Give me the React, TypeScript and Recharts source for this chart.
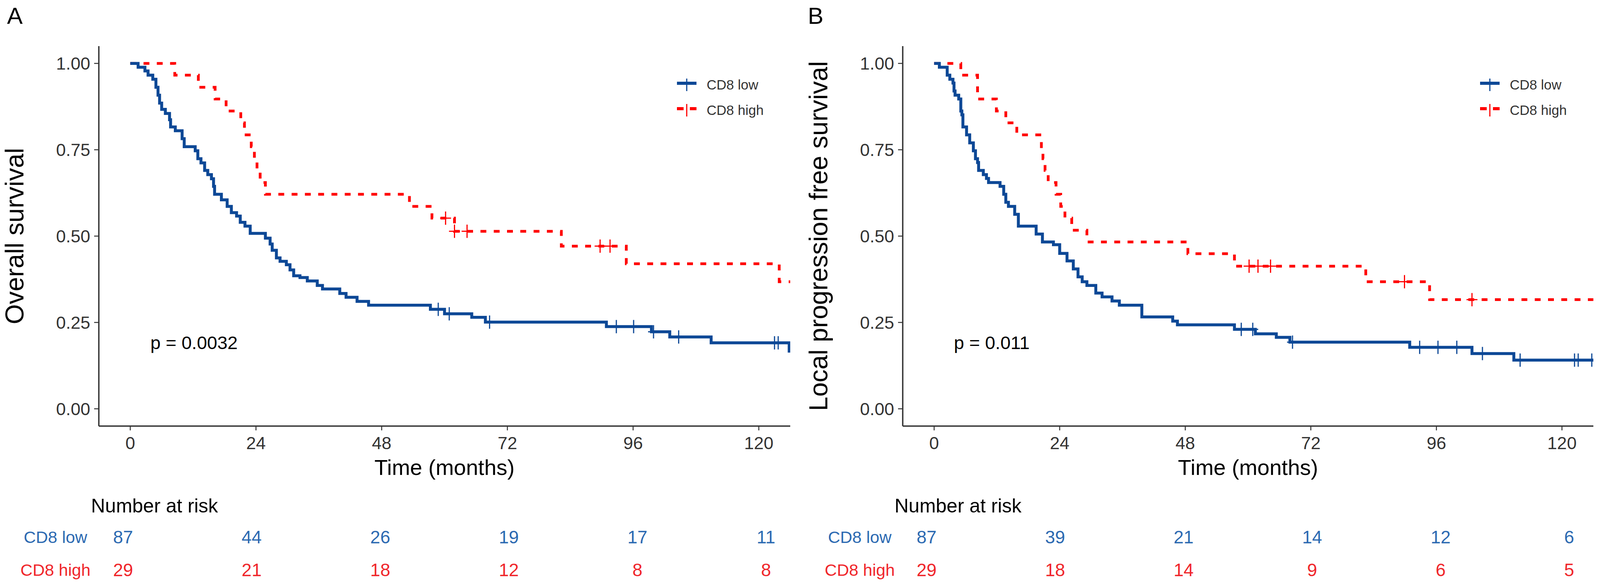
import React from 'react';
import { ComposedChart, Line, Scatter, XAxis, YAxis, Legend } from 'recharts';

const FONT = '"Liberation Sans", Arial, Helvetica, sans-serif';
const BLUE = '#0D4896';
const RED = '#FF0000';
const BLUE_TXT = '#2C6AB2';
const RED_TXT = '#F0262B';
const AXIS = '#333333';

const groups = ['CD8 low', 'CD8 high'];
const timeTicks = [0, 24, 48, 72, 96, 120];
const survTicks = [0, 0.25, 0.5, 0.75, 1];

// Panel A - overall survival, [time, survival]
const osLow = [
  [0, 1], [1.5, 0.989], [2.8, 0.978], [3.4, 0.966], [4.3, 0.954], [4.9, 0.931], [5.3, 0.908],
  [5.6, 0.885], [6.0, 0.867], [6.7, 0.855], [7.5, 0.837], [7.7, 0.816], [8.6, 0.805],
  [9.9, 0.782], [10.3, 0.759], [12.4, 0.747], [12.9, 0.724], [13.5, 0.712], [14.2, 0.69],
  [14.8, 0.678], [15.5, 0.666], [15.9, 0.644], [16.1, 0.621], [17.4, 0.605], [18.5, 0.586],
  [19.3, 0.568], [20.3, 0.558], [21.0, 0.54], [21.9, 0.529], [22.9, 0.508], [25.8, 0.494],
  [26.7, 0.477], [27.1, 0.459], [27.9, 0.437], [28.6, 0.427], [29.8, 0.417], [30.5, 0.402],
  [31.2, 0.385], [32.4, 0.38], [33.8, 0.37], [35.7, 0.357], [36.7, 0.347], [40.0, 0.334],
  [41.2, 0.323], [43.3, 0.311], [45.5, 0.3], [57.3, 0.288], [60.0, 0.275], [65.2, 0.265],
  [67.8, 0.251], [90.9, 0.238], [99.5, 0.223], [103.0, 0.208], [110.9, 0.191],
  [125.8, 0.167], [126, 0.167],
];
const osHigh = [
  [0, 1], [8.5, 0.966], [13.0, 0.931], [16.2, 0.897], [18.3, 0.862], [21.1, 0.828],
  [21.8, 0.793], [23.1, 0.759], [23.7, 0.724], [24.2, 0.69], [24.8, 0.655], [25.8, 0.621],
  [53.3, 0.586], [57.6, 0.552], [61.9, 0.514], [82.3, 0.471], [94.7, 0.42], [123.9, 0.368],
  [126, 0.368],
];
const osLowCensor = [
  [58.8, 0.288], [60.9, 0.275], [68.6, 0.251], [92.8, 0.238], [96.1, 0.238], [99.9, 0.223],
  [104.7, 0.208], [123.0, 0.191], [123.7, 0.191],
];
const osHighCensor = [[60.2, 0.552], [61.9, 0.514], [64.3, 0.514], [89.7, 0.471], [91.6, 0.471]];

// Panel B - local progression free survival
const lpfsLow = [
  [0, 1], [1.0, 0.989], [2.5, 0.966], [3.0, 0.954], [3.6, 0.943], [3.8, 0.92], [4.0, 0.908],
  [4.7, 0.897], [5.1, 0.862], [5.3, 0.851], [5.5, 0.816], [6.2, 0.793], [6.8, 0.77],
  [7.5, 0.747], [7.9, 0.724], [8.3, 0.713], [8.5, 0.69], [9.4, 0.678], [10.0, 0.667],
  [10.4, 0.655], [12.6, 0.644], [13.3, 0.621], [13.7, 0.598], [14.2, 0.586], [15.4, 0.563],
  [16.1, 0.529], [19.5, 0.506], [20.7, 0.483], [22.8, 0.475], [24.0, 0.45], [25.4, 0.428],
  [26.6, 0.405], [27.5, 0.382], [28.3, 0.368], [29.2, 0.357], [30.9, 0.335], [32.1, 0.324],
  [34.0, 0.312], [35.4, 0.3], [39.7, 0.266], [45.6, 0.254], [46.5, 0.243], [57.4, 0.23],
  [61.4, 0.217], [65.4, 0.207], [68.0, 0.193], [90.9, 0.178], [102.8, 0.16], [110.8, 0.141],
  [126, 0.141],
];
const lpfsHigh = [
  [0, 1], [5.1, 0.966], [8.3, 0.897], [11.9, 0.862], [13.7, 0.828], [15.8, 0.793],
  [20.5, 0.759], [20.8, 0.724], [21.2, 0.69], [21.8, 0.655], [23.3, 0.621], [24.2, 0.586],
  [25.0, 0.552], [26.3, 0.517], [29.2, 0.483], [48.5, 0.449], [57.4, 0.413], [82.5, 0.368],
  [94.7, 0.316], [126, 0.316],
];
const lpfsLowCensor = [
  [58.7, 0.23], [60.9, 0.23], [68.5, 0.193], [92.8, 0.178], [96.3, 0.178], [99.9, 0.178],
  [104.8, 0.16], [112.0, 0.141], [122.4, 0.141], [123.1, 0.141], [125.7, 0.141],
];
const lpfsHighCensor = [[60.2, 0.413], [61.9, 0.413], [64.3, 0.413], [89.9, 0.368], [102.8, 0.316]];

// Number at risk at the time ticks
const riskA_low = [87, 44, 26, 19, 17, 11];
const riskA_high = [29, 21, 18, 12, 8, 8];
const riskB_low = [87, 39, 21, 14, 12, 6];
const riskB_high = [29, 18, 14, 9, 6, 5];

const pts = (arr: number[][]) => arr.map(([t, s]) => ({ t, s }));
const riskRows = (low: number[], high: number[]) => [
  ...low.map((n, i) => ({ t: timeTicks[i], row: 1, n })),
  ...high.map((n, i) => ({ t: timeTicks[i], row: 2, n })),
];

const plusShape = (color: string) => (props: any) => {
  const { cx, cy } = props;
  if (cx == null || cy == null) return null;
  return (
    <g stroke={color} strokeWidth={3}>
      <line x1={cx - 14} x2={cx + 14} y1={cy} y2={cy} />
      <line x1={cx} x2={cx} y1={cy - 17} y2={cy + 17} />
    </g>
  );
};

const legendContent = () => (
  <div style={{ fontFamily: FONT }}>
    {groups.map((g, i) => (
      <div key={g} style={{ display: 'flex', alignItems: 'center', height: 65 }}>
        <svg width={50} height={40}>
          {i === 0 ? (
            <line x1={0} x2={50} y1={16} y2={16} stroke={BLUE} strokeWidth={8} />
          ) : (
            <g stroke={RED} strokeWidth={8}>
              <line x1={0} x2={17} y1={16} y2={16} />
              <line x1={33} x2={50} y1={16} y2={16} />
            </g>
          )}
          <line x1={25} x2={25} y1={4} y2={36} stroke={i === 0 ? BLUE : RED} strokeWidth={3} />
        </svg>
        <span style={{ marginLeft: 26, fontSize: 35, color: '#333' }}>{g}</span>
      </div>
    ))}
  </div>
);

const RiskTick = (props: any) => {
  const { x, y, payload } = props;
  const row = payload.value as number;
  return (
    <text x={x} y={y} dy="0.36em" textAnchor="middle" fontSize={43} fontFamily={FONT} fill={row === 1 ? BLUE_TXT : RED_TXT}>
      {groups[row - 1]}
    </text>
  );
};

const riskShape = (props: any) => {
  const { cx, cy, payload } = props;
  return (
    <text x={cx} y={cy} dy="0.36em" textAnchor="middle" fontSize={46} fontFamily={FONT} fill={payload.row === 1 ? BLUE_TXT : RED_TXT}>
      {payload.n}
    </text>
  );
};

type PanelProps = {
  left: number;
  width: number;
  axisWidth: number;
  right: number;
  titleOffset: number;
  legendLeft: number;
  pvalLeft: number;
  riskLeft: number;
  riskAxisWidth: number;
  riskRight: number;
  riskLabelMargin: number;
  tag: string;
  yLabel: string;
  pval: string;
  low: number[][];
  high: number[][];
  lowCens: number[][];
  highCens: number[][];
  riskLow: number[];
  riskHigh: number[];
};

const Panel = (p: PanelProps) => {
  const tickStyle = { fontSize: 45, fill: '#333', fontFamily: FONT };
  return (
    <>
      <div style={{ position: 'absolute', left: p.left + 18, top: 11, fontSize: 60, lineHeight: 1, fontFamily: FONT }}>{p.tag}</div>
      <div style={{ position: 'absolute', left: p.left }}>
        <ComposedChart width={p.width} height={1240} margin={{ top: 118, right: p.right, bottom: 20, left: 0 }}>
          <XAxis
            type="number"
            dataKey="t"
            domain={[-6, 126]}
            ticks={timeTicks}
            allowDataOverflow
            height={130}
            tickSize={11}
            tickMargin={16}
            axisLine={{ stroke: AXIS, strokeWidth: 3.5 }}
            tickLine={{ stroke: AXIS, strokeWidth: 2.5 }}
            tick={tickStyle}
            label={{ value: 'Time (months)', position: 'insideBottom', offset: 5, style: { fontSize: 56, fill: '#000', fontFamily: FONT } }}
          />
          <YAxis
            type="number"
            domain={[-0.05, 1.05]}
            ticks={survTicks}
            allowDataOverflow
            width={p.axisWidth}
            tickSize={12}
            tickMargin={10}
            tickFormatter={(v: number) => v.toFixed(2)}
            axisLine={{ stroke: AXIS, strokeWidth: 3.5 }}
            tickLine={{ stroke: AXIS, strokeWidth: 2.5 }}
            tick={tickStyle}
            label={{ value: p.yLabel, angle: -90, position: 'insideLeft', offset: p.titleOffset, style: { textAnchor: 'middle', fontSize: 66, fill: '#000', fontFamily: FONT } }}
          />
          <Legend
            layout="vertical"
            align="center"
            verticalAlign="middle"
            content={legendContent}
            wrapperStyle={{ left: p.legendLeft, top: 184, width: 320 }}
          />
          <Line data={pts(p.high)} dataKey="s" type="stepAfter" stroke={RED} strokeWidth={7} strokeDasharray="15 19" dot={false} activeDot={false} isAnimationActive={false} name="CD8 high" />
          <Line data={pts(p.low)} dataKey="s" type="stepAfter" stroke={BLUE} strokeWidth={7.5} dot={false} activeDot={false} isAnimationActive={false} name="CD8 low" />
          <Scatter data={pts(p.highCens)} dataKey="s" shape={plusShape(RED)} isAnimationActive={false} />
          <Scatter data={pts(p.lowCens)} dataKey="s" shape={plusShape(BLUE)} isAnimationActive={false} />
        </ComposedChart>
      </div>
      <div style={{ position: 'absolute', left: p.left + p.pvalLeft, top: 853, fontSize: 47, lineHeight: 1, fontFamily: FONT }}>{p.pval}</div>
      <div style={{ position: 'absolute', left: p.left + p.riskLeft, top: 1269, fontSize: 50, lineHeight: 1, fontFamily: FONT }}>Number at risk</div>
      <div style={{ position: 'absolute', left: p.left, top: 1323 }}>
        <ComposedChart width={p.width} height={168} margin={{ top: 0, right: p.riskRight, bottom: 0, left: 0 }}>
          <XAxis type="number" dataKey="t" domain={[0, 120]} hide />
          <YAxis
            type="number"
            domain={[0.4, 2.4]}
            ticks={[1, 2]}
            reversed
            width={p.riskAxisWidth}
            axisLine={false}
            tickLine={false}
            tickSize={0}
            tickMargin={p.riskLabelMargin}
            tick={<RiskTick />}
          />
          <Scatter data={riskRows(p.riskLow, p.riskHigh)} dataKey="row" shape={riskShape} isAnimationActive={false} />
        </ComposedChart>
      </div>
    </>
  );
};

export default function App() {
  return (
    <div style={{ position: 'absolute', left: 0, top: 0, width: 4099, height: 1494, overflow: 'hidden', background: '#fff', fontFamily: FONT }}>
      <Panel
        left={0}
        width={2050}
        axisWidth={253}
        right={27}
        titleOffset={37}
        legendLeft={1733}
        pvalLeft={385}
        riskLeft={233}
        riskAxisWidth={315}
        riskRight={89}
        riskLabelMargin={173}
        tag="A"
        yLabel="Overall survival"
        pval="p = 0.0032"
        low={osLow}
        high={osHigh}
        lowCens={osLowCensor}
        highCens={osHighCensor}
        riskLow={riskA_low}
        riskHigh={riskA_high}
      />
      <Panel
        left={2050}
        width={2049}
        axisWidth={261}
        right={20}
        titleOffset={45}
        legendLeft={1739}
        pvalLeft={392}
        riskLeft={240}
        riskAxisWidth={322}
        riskRight={82}
        riskLabelMargin={171}
        tag="B"
        yLabel="Local progression free survival"
        pval="p = 0.011"
        low={lpfsLow}
        high={lpfsHigh}
        lowCens={lpfsLowCensor}
        highCens={lpfsHighCensor}
        riskLow={riskB_low}
        riskHigh={riskB_high}
      />
    </div>
  );
}
